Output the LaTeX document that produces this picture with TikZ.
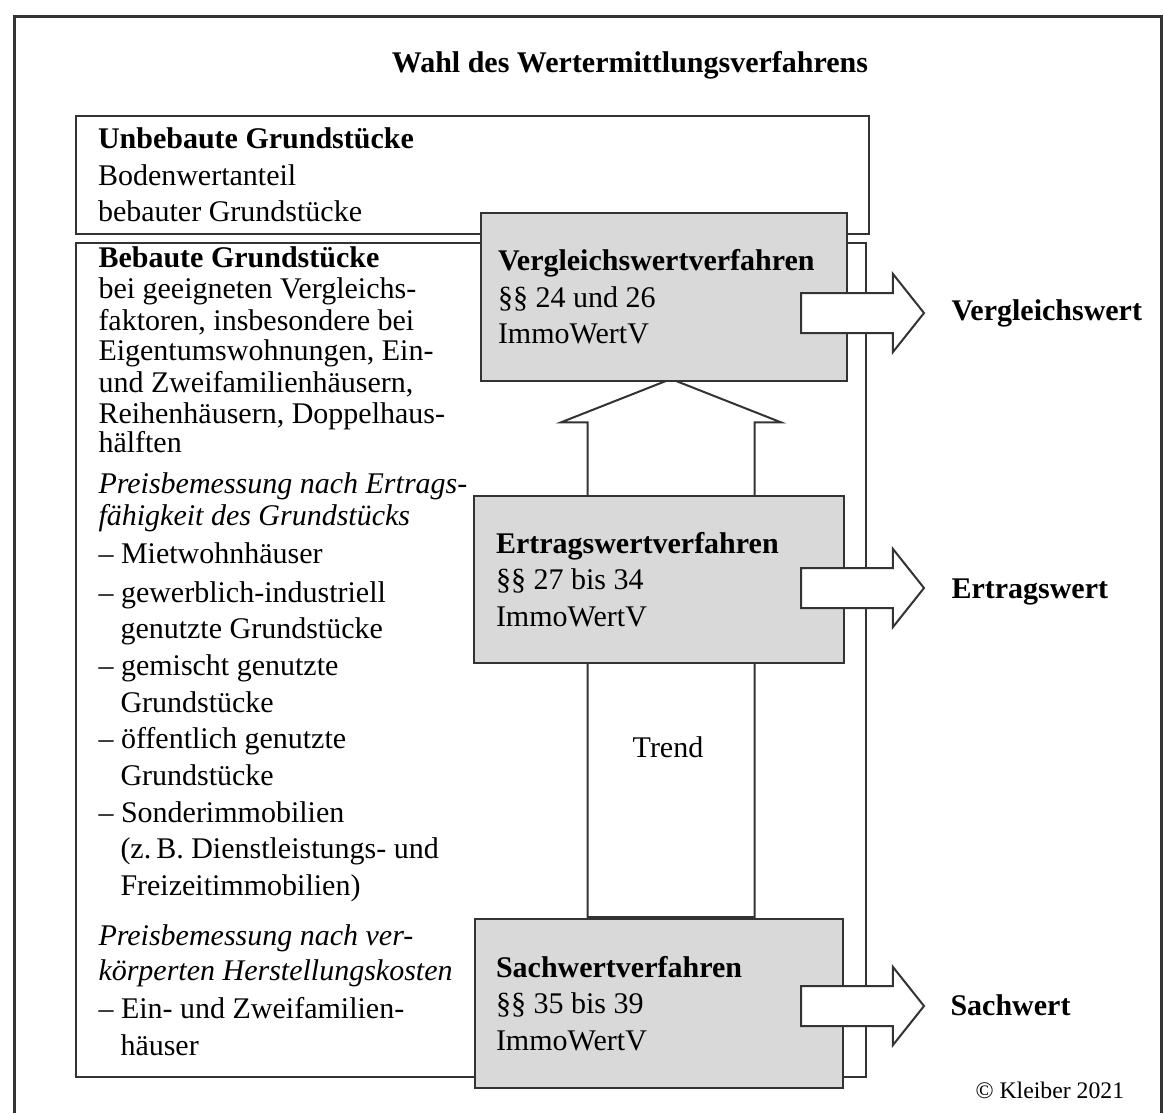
\documentclass[tikz,border=0pt]{standalone}
\usepackage{fontspec}
\setmainfont{Liberation Serif}
\usetikzlibrary{shapes.arrows}

\tikzset{
  schrift/.style={font=\fontsize{12}{14.6}\selectfont},
  kasten/.style={rectangle, draw=black!80, thick, inner sep=0pt, anchor=north west, align=flush left, schrift},
  verfahren/.style={kasten, fill=black!15},
  blockpfeil/.style={single arrow, draw=black!80, fill=white, thick, inner xsep=0pt, inner ysep=7.6pt, anchor=tail,
    minimum height=49.2pt, minimum width=30.4pt, single arrow head extend=7.6pt, single arrow tip angle=103},
  zeile/.style={anchor=base west, inner sep=0pt, schrift},
  ergebnis/.style={zeile, font=\fontsize{12}{14.6}\selectfont\bfseries}
}

\begin{document}
\begin{tikzpicture}[x=0.4pt, y=-0.4pt]
	\useasboundingbox (0,0) rectangle (1164,1113);
	\draw[line width=1.2pt, black!80] (14,1113) -- (14,16) -- (1161,16) -- (1161,1113);

	\node[ergebnis, anchor=base] (titel) at (630,72) {Wahl des Wertermittlungsverfahrens};

	\node[kasten, minimum width=317.2pt, minimum height=47.2pt, text width=299.6pt] (unbebaut) at (75,115)
		{\textbf{Unbebaute Grundstücke}\\ Bodenwertanteil\\ bebauter Grundstücke};
	\node[kasten, minimum width=316pt, minimum height=333.6pt] (bebaut) at (75,242) {};

	% linke Spalte
	\foreach \x/\y/\t in {98/267/{\textbf{Bebaute Grundstücke}}, 98/298/{bei geeigneten Vergleichs-},
		98/330/{faktoren, insbesondere bei}, 98/360/{Eigentumswohnungen, Ein-},
		98/392/{und Zweifamilienhäusern,}, 98/423/{Reihenhäusern, Doppelhaus-}, 98/452/{hälften},
		98/493/{\textit{Preisbemessung nach Ertrags-}}, 98/525/{\textit{fähigkeit des Grundstücks}},
		98/563/{-- Mietwohnhäuser}, 98/602/{-- gewerblich-industriell}, 120/638/{genutzte Grundstücke},
		98/675/{-- gemischt genutzte}, 120/712/{Grundstücke}, 98/748/{-- öffentlich genutzte},
		120/785/{Grundstücke}, 98/822/{-- Sonderimmobilien}, 120/858/{(z.\,B. Dienstleistungs- und},
		120/895/{Freizeitimmobilien)}, 98/945/{\textit{Preisbemessung nach ver-}},
		98/980/{\textit{körperten Herstellungskosten}}, 98/1018/{-- Ein- und Zweifamilien-},
		120/1055/{häuser}}
		\node[zeile] (z\y) at (\x,\y) {\t};

	% Trend
	\node[blockpfeil, rotate=90, inner ysep=33pt, minimum height=215.2pt, minimum width=87.2pt,
		single arrow head extend=10.6pt, single arrow tip angle=137] (trendpfeil) at (671,918) {};
	\node[zeile, anchor=base] (trend) at (668,757) {Trend};

	\node[verfahren, minimum width=146.4pt, minimum height=67.2pt, text width=132.8pt] (vgl) at (480,212)
		{\textbf{Vergleichswertverfahren}\\ §§ 24 und 26\\ ImmoWertV};
	\node[verfahren, minimum width=148pt, minimum height=66.8pt, text width=130.4pt] (ertrag) at (473,495)
		{\textbf{Ertragswertverfahren}\\ §§ 27 bis 34\\ ImmoWertV};
	\node[verfahren, minimum width=147.2pt, minimum height=67.6pt, text width=130.4pt] (sach) at (474,918)
		{\textbf{Sachwertverfahren}\\ §§ 35 bis 39\\ ImmoWertV};

	\node[blockpfeil] (pfeilvgl) at (800,313) {};
	\node[blockpfeil] (pfeilertrag) at (800,588) {};
	\node[blockpfeil] (pfeilsach) at (800,1006) {};

	\node[ergebnis] (vergleichswert) at (951,320) {Vergleichswert};
	\node[ergebnis] (ertragswert) at (951,598) {Ertragswert};
	\node[ergebnis] (sachwert) at (950,1015) {Sachwert};
	\node[zeile, font=\fontsize{9.5}{11}\selectfont] (kleiber) at (975,1098) {© Kleiber 2021};
\end{tikzpicture}
\end{document}
